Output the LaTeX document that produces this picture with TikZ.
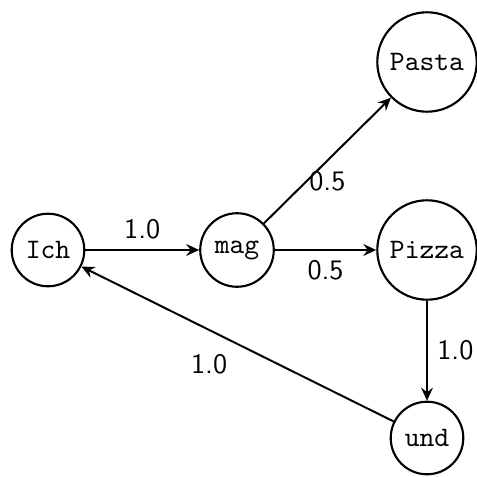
\documentclass[tikz,border=0pt]{standalone}
\usetikzlibrary{arrows.meta}
\begin{document}
\begin{tikzpicture}[x=0.3546pt,y=-0.3546pt,
  state/.style={circle,draw,line width=0.75pt,font=\ttfamily},
  edge/.style={line width=0.7pt,-{Stealth[length=4.6pt,width=4.2pt,inset=1.6pt]}},
  lbl/.style={font=\sffamily}]
\useasboundingbox (0,0) rectangle (477,477);
\node[state] (ich) at (48,250) {Ich};
\node[state] (mag) at (237,250) {mag};
\node[state] (pasta) at (427,62) {Pasta};
\node[state] (pizza) at (427,250) {Pizza};
\node[state] (und) at (427,438) {und};
\draw[edge] (ich) -- node[lbl,above] {1.0} (mag);
\draw[edge] (mag) -- node[lbl,below] {0.5} (pasta);
\draw[edge] (mag) -- node[lbl,below] {0.5} (pizza);
\draw[edge] (pizza) -- node[lbl,right] {1.0} (und);
\draw[edge] (und) -- node[lbl,below left] {1.0} (ich);
\end{tikzpicture}
\end{document}
